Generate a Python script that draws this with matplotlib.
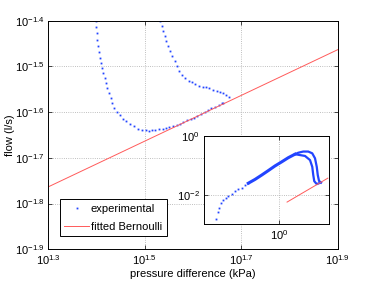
import numpy as np
import matplotlib
matplotlib.use('Agg')
import matplotlib.pyplot as plt

plt.rcParams['font.family'] = ['Liberation Sans', 'DejaVu Sans']
plt.rcParams['mathtext.fontset'] = 'custom'
plt.rcParams['mathtext.rm'] = 'Liberation Sans'
plt.rcParams['mathtext.it'] = 'Liberation Sans:italic'
plt.rcParams['font.size'] = 8

# experimental data, log10 values read off the picture
# lower branch (comes down on the left, rises along the fit)
low_lx = [1.398, 1.399, 1.400, 1.402, 1.404, 1.406, 1.408, 1.410, 1.412, 1.414,
          1.417, 1.419, 1.422, 1.425, 1.429, 1.433, 1.437, 1.442, 1.449, 1.455,
          1.462, 1.469, 1.478, 1.486, 1.494, 1.502, 1.509, 1.515, 1.522, 1.530,
          1.537, 1.544, 1.551, 1.559, 1.566, 1.573, 1.580, 1.588, 1.595, 1.602,
          1.609, 1.617, 1.624, 1.631, 1.638, 1.646, 1.653, 1.660, 1.663]
low_ly = [-1.401, -1.414, -1.427, -1.442, -1.455, -1.468, -1.482, -1.493, -1.503, -1.514,
          -1.525, -1.536, -1.547, -1.558, -1.569, -1.580, -1.590, -1.599, -1.606, -1.614,
          -1.620, -1.626, -1.631, -1.636, -1.638, -1.640, -1.641, -1.640, -1.638, -1.637,
          -1.636, -1.635, -1.633, -1.630, -1.628, -1.625, -1.622, -1.618, -1.615, -1.612,
          -1.608, -1.604, -1.600, -1.596, -1.592, -1.589, -1.584, -1.581, -1.579]
# upper branch
up_lx = [1.532, 1.535, 1.538, 1.541, 1.545, 1.549, 1.553, 1.557, 1.562, 1.567,
         1.572, 1.577, 1.583, 1.591, 1.598, 1.605, 1.613, 1.620, 1.627, 1.634,
         1.642, 1.649, 1.656, 1.662, 1.668, 1.674]
up_ly = [-1.401, -1.412, -1.423, -1.434, -1.444, -1.455, -1.466, -1.477, -1.488, -1.499,
         -1.509, -1.518, -1.525, -1.531, -1.535, -1.539, -1.542, -1.544, -1.546, -1.548,
         -1.551, -1.553, -1.556, -1.559, -1.563, -1.567]

# full data set for the inset
tail_lx = [-2.53, -2.45, -2.40, -2.32, -2.23, -2.13, -2.03, -1.89, -1.76, -1.63, -1.49, -1.36, -1.23]
tail_ly = [-2.83, -2.58, -2.47, -2.30, -2.18, -2.11, -2.05, -1.98, -1.89, -1.82, -1.76, -1.68, -1.61]
band_lx = [-1.23, -0.96, -0.69, -0.43, -0.16, 0.11, 0.37, 0.64]
band_ly = [-1.61, -1.48, -1.33, -1.18, -1.02, -0.88, -0.74, -0.62]
outer_lx = [0.64, 0.77, 0.97, 1.17, 1.33, 1.44, 1.51, 1.55, 1.60, 1.68]
outer_ly = [-0.62, -0.57, -0.53, -0.53, -0.59, -0.76, -1.05, -1.33, -1.53, -1.59]
inner_lx = [0.64, 0.84, 1.04, 1.24, 1.33, 1.37, 1.41, 1.51, 1.60, 1.66]
inner_ly = [-0.62, -0.65, -0.68, -0.82, -1.05, -1.33, -1.54, -1.64, -1.61, -1.58]

# Bernoulli fit q = k * sqrt(dp)
k_fit = 0.00386
fit_dp = np.array([2.1, 90.0])
fit_q = k_fit * np.sqrt(fit_dp)

blue = '#2244ff'
red = '#ff5a5a'

main_xticks = [1.3, 1.5, 1.7, 1.9]
main_yticks = [-1.9, -1.8, -1.7, -1.6, -1.5, -1.4]


def p10(v):
    return 10 ** np.asarray(v)


def style(ax):
    ax.tick_params(which='both', direction='in', top=True, right=True,
                   length=3, width=0.5, labelsize=8, pad=3)
    ax.minorticks_off()
    for s in ax.spines.values():
        s.set_linewidth(0.7)
    ax.grid(True, which='major', linestyle=':', color='#aaaaaa', linewidth=0.6)


dot = dict(marker='s', linestyle='none', color=blue, markersize=1.3, markeredgewidth=0)

fig = plt.figure(figsize=(3.74, 2.81), dpi=100)
ax = fig.add_axes([0.1291, 0.1128, 0.7738, 0.8135])
ax.set_xscale('log')
ax.set_yscale('log')
ax.plot(p10(low_lx), p10(low_ly), label='experimental', **dot)
ax.plot(p10(up_lx), p10(up_ly), **dot)
ax.plot(fit_dp, fit_q, '-', color=red, linewidth=0.7, label='fitted Bernoulli')
ax.set_xlim(10 ** 1.3, 10 ** 1.9)
ax.set_ylim(10 ** -1.9, 10 ** -1.4)
ax.set_xticks(p10(main_xticks))
ax.set_xticklabels([r'$10^{%g}$' % t for t in main_xticks])
ax.set_yticks(p10(main_yticks))
ax.set_yticklabels([r'$10^{%g}$' % t for t in main_yticks])
style(ax)
ax.set_xlabel('pressure difference (kPa)', labelpad=1)
ax.set_ylabel('flow (l/s)', labelpad=0)

leg = ax.legend(loc='lower left', bbox_to_anchor=(0.04, 0.058), borderaxespad=0,
                fancybox=False, framealpha=1, edgecolor='black',
                handlelength=2.2, handletextpad=0.2, labelspacing=0.7,
                borderpad=0.4, fontsize=8)
leg.get_frame().set_linewidth(0.7)

axin = fig.add_axes([0.5455, 0.2028, 0.3342, 0.3132])
axin.set_xscale('log')
axin.set_yscale('log')
axin.plot(p10(tail_lx), p10(tail_ly), **dot)
axin.plot(p10(band_lx), p10(band_ly), '-', color=blue, linewidth=2.2)
axin.plot(p10(outer_lx), p10(outer_ly), '-', color=blue, linewidth=1.6)
axin.plot(p10(inner_lx), p10(inner_ly), '-', color=blue, linewidth=1.6)
axin.plot(fit_dp, fit_q, '-', color=red, linewidth=0.7)
axin.set_xlim(1e-3, 1e2)
axin.set_ylim(1e-3, 1e0)
axin.set_xticks([1e0])
axin.set_xticklabels([r'$10^{0}$'])
axin.set_yticks([1e-2, 1e0])
axin.set_yticklabels([r'$10^{-2}$', r'$10^{0}$'])
style(axin)

fig.savefig('out.png', dpi=100)
